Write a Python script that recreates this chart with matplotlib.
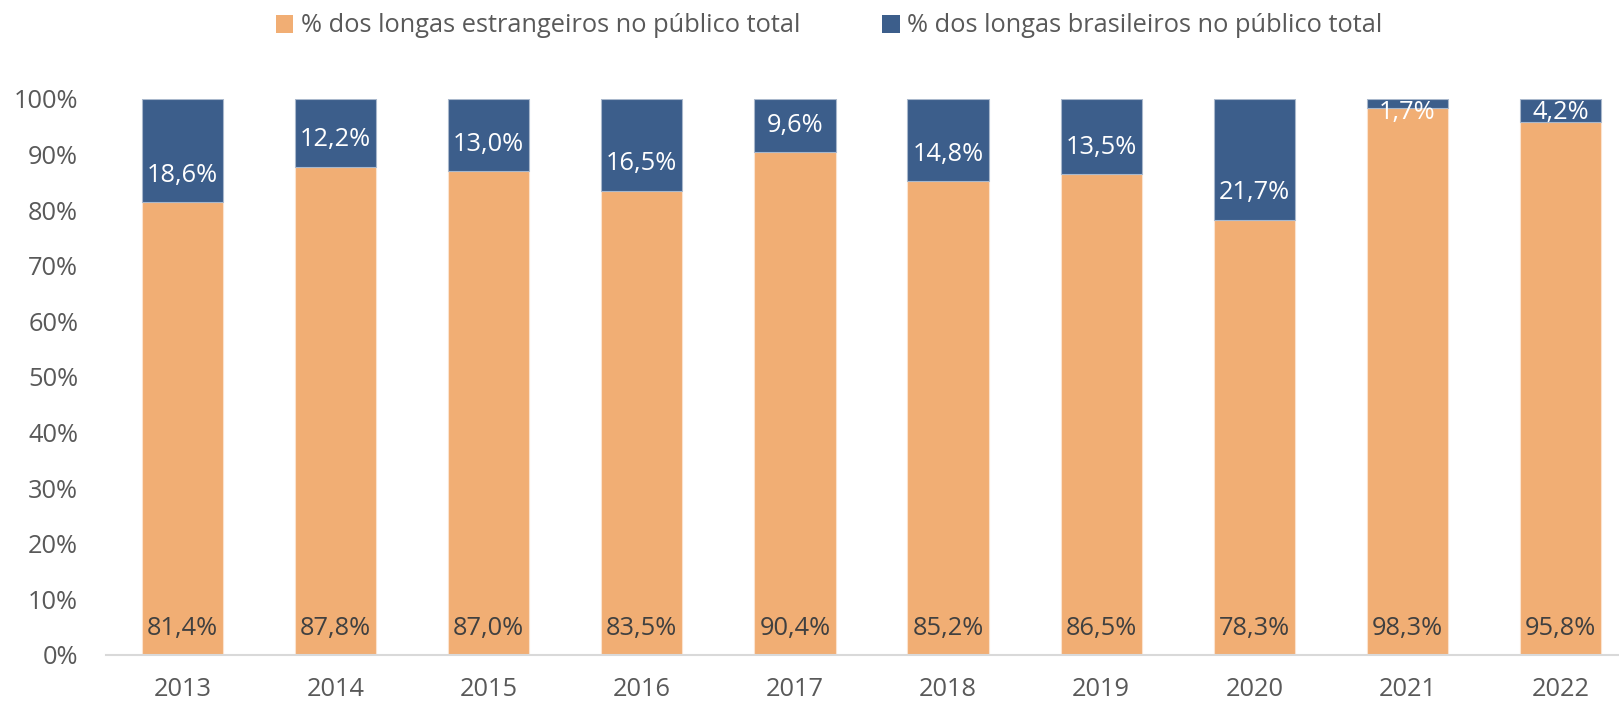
import matplotlib
matplotlib.use("Agg")
import matplotlib.pyplot as plt
from matplotlib.patches import Patch

years = ["2013", "2014", "2015", "2016", "2017", "2018", "2019", "2020", "2021", "2022"]
estrangeiros = [81.4, 87.8, 87.0, 83.5, 90.4, 85.2, 86.5, 78.3, 98.3, 95.8]
brasileiros = [18.6, 12.2, 13.0, 16.5, 9.6, 14.8, 13.5, 21.7, 1.7, 4.2]
yticks = [0, 10, 20, 30, 40, 50, 60, 70, 80, 90, 100]
series_names = ["% dos longas estrangeiros no público total",
                "% dos longas brasileiros no público total"]

ORANGE = "#F1AE74"
BLUE = "#3C5E8B"
FONT = "Open Sans"
plt.rcParams["font.family"] = [FONT, "DejaVu Sans"]
FS = 18.3

W, H = 1619, 707
fig = plt.figure(figsize=(W / 100, H / 100), dpi=100)
ax_left, ax_right = 106, 1637
ax_bottom, ax_top = 655, 99
ax = fig.add_axes([ax_left / W, (H - ax_bottom) / H,
                   (ax_right - ax_left) / W, (ax_bottom - ax_top) / H])

x = list(range(len(years)))
bw = 0.53
ax.bar(x, estrangeiros, width=bw, color=ORANGE, edgecolor="#fbe3cf", linewidth=0.8, zorder=2)
ax.bar(x, brasileiros, width=bw, bottom=estrangeiros, color=BLUE, edgecolor="#a9b8cc",
       linewidth=0.8, zorder=2)

off = 4.85
for xi, e, b in zip(x, estrangeiros, brasileiros):
    ax.text(xi, off, f"{e:.1f}%".replace(".", ","), ha="center", va="center",
            fontsize=FS, color="#404040", zorder=3)
    ax.text(xi, min(e + off, 97.6), f"{b:.1f}%".replace(".", ","), ha="center", va="center",
            fontsize=FS, color="white", zorder=3)

ax.set_xlim(-0.5, 9.5)
ax.set_ylim(0, 100)
ax.set_xticks(x)
ax.set_xticklabels(years)
ax.set_yticks(yticks)
ax.set_yticklabels([f"{t}%" for t in yticks])
ax.tick_params(axis="both", length=0, labelsize=FS, labelcolor="#595959")
ax.tick_params(axis="y", pad=20)
ax.tick_params(axis="x", pad=16)
for s in ["top", "right", "left"]:
    ax.spines[s].set_visible(False)
ax.spines["bottom"].set_color("#d9d9d9")
ax.spines["bottom"].set_linewidth(1.5)

handles = [Patch(facecolor=ORANGE), Patch(facecolor=BLUE)]
fig.legend(handles, series_names, loc="center", bbox_to_anchor=(829 / W, 1 - 26 / H),
           ncol=2, frameon=False, fontsize=FS, labelcolor="#595959",
           handlelength=0.7, handleheight=0.7, handletextpad=0.3, columnspacing=3.2)

fig.savefig("out.png", dpi=100)
